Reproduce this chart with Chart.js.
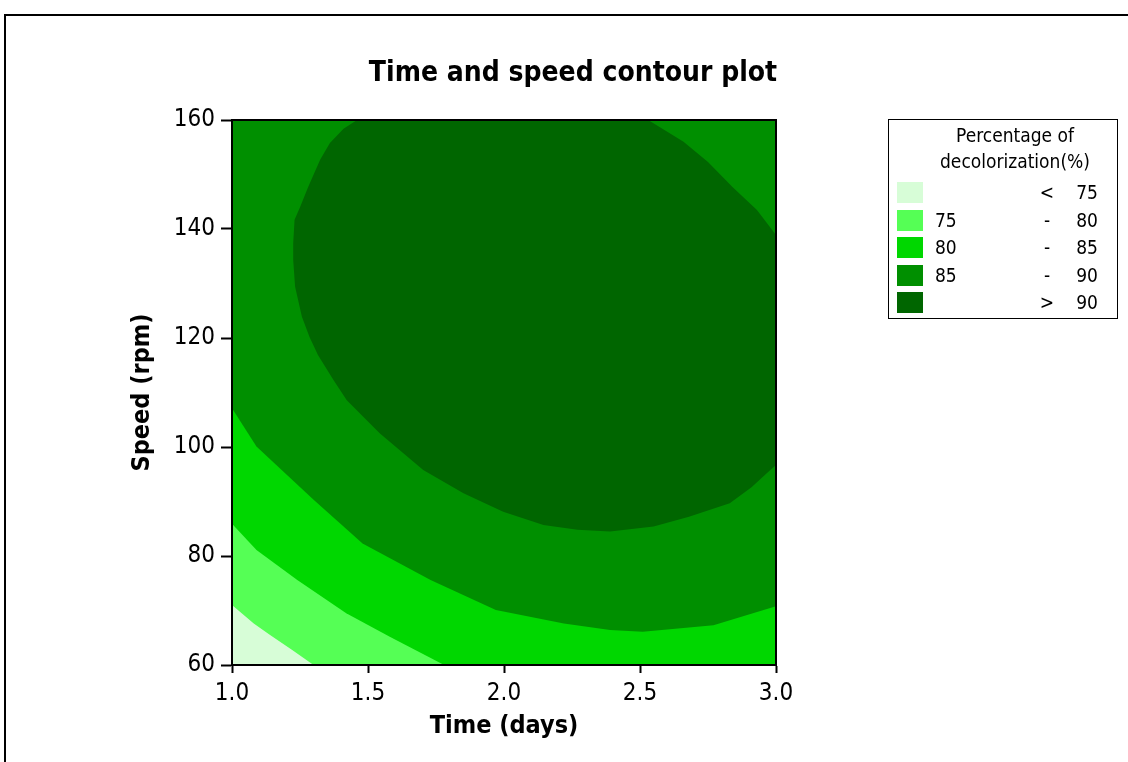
<!DOCTYPE html>
<html>
<head>
<meta charset="utf-8">
<script src="https://cdn.jsdelivr.net/npm/chart.js@4.4.1/dist/chart.umd.min.js"></script>
<style>
  html, body { margin: 0; padding: 0; background: #fff; overflow: hidden; }
  #wrap { position: relative; width: 1128px; height: 762px; font-family: 'DejaVu Sans Condensed', 'DejaVu Sans', sans-serif; color: #000; }
  #frame { position: absolute; left: 4px; top: 14px; width: 1200px; height: 800px; border: 2px solid #000; }
  #chart { position: absolute; left: 0; top: 0; }
  #title { position: absolute; left: 0; top: 56px; width: 1146px; text-align: center; font-weight: bold; font-size: 28px; line-height: 32px; }
  #legend { position: absolute; left: 888px; top: 119px; width: 230px; height: 200px; border: 1px solid #000; box-sizing: border-box; font-size: 19px; }
  #legend .head { position: absolute; left: 26px; width: 200px; text-align: center; line-height: 24px; }
  #legend .sw { position: absolute; left: 8px; width: 26px; height: 21px; }
  #legend .lo { position: absolute; left: 46px; line-height: 21px; }
  #legend .sg { position: absolute; left: 148px; width: 20px; text-align: center; line-height: 21px; }
  #legend .hi { position: absolute; right: 19px; line-height: 21px; text-align: right; }
</style>
</head>
<body>
<div id="wrap">
  <div id="frame"></div>
  <canvas id="chart" width="1128" height="762"></canvas>
  <div id="title">Time and speed contour plot</div>
  <div id="legend"></div>
</div>
<script>
// axis ranges and ticks
const timeRange = [1.0, 3.0];
const speedRange = [60, 160];
const timeTicks = [1.0, 1.5, 2.0, 2.5, 3.0];
const speedTicks = [60, 80, 100, 120, 140, 160];

// legend
const legendTitle = ['Percentage of', 'decolorization(%)'];
const levelColors = ['#d7fdd7', '#55ff55', '#00d700', '#008f00', '#006600'];
const legendLow = ['', '75', '80', '85', ''];
const legendSign = ['<', '-', '-', '-', '>'];
const legendHigh = ['75', '80', '85', '90', '90'];

// contour lines, [time, speed]
const contour75 = [[1.0, 71.0], [1.08, 67.6], [1.14, 65.5], [1.22, 62.8], [1.30, 60]];
const contour80 = [[1.0, 85.9], [1.09, 81.1], [1.24, 75.6], [1.42, 69.5], [1.58, 65.2], [1.78, 60]];
const contour85 = [[1.0, 107.1], [1.09, 100.1], [1.15, 97.3], [1.30, 90.3], [1.48, 82.3], [1.73, 75.6],
  [1.97, 70.1], [2.22, 67.6], [2.39, 66.4], [2.51, 66.1], [2.77, 67.3], [3.0, 70.8]];
const contour90 = [[1.46, 160], [1.41, 158.4], [1.36, 155.8], [1.324, 152.7], [1.28, 147.7], [1.25, 144.0],
  [1.23, 141.7], [1.225, 137.4], [1.225, 134.3], [1.232, 129.4], [1.257, 123.9], [1.285, 120.2],
  [1.316, 116.9], [1.373, 112.3], [1.422, 108.6], [1.544, 102.5], [1.703, 95.8],
  [1.851, 91.5], [1.997, 88.1], [2.145, 85.7], [2.27, 84.8], [2.39, 84.5], [2.55, 85.4], [2.68, 87.2],
  [2.83, 89.7], [2.91, 92.6], [2.966, 95.2], [3.0, 96.7]];
const contour90top = [[3.0, 138.9], [2.93, 143.5], [2.84, 147.7], [2.75, 152.3], [2.66, 156], [2.53, 160]];

const fontFamily = "'DejaVu Sans Condensed', 'DejaVu Sans', sans-serif";

const [tMin, tMax] = timeRange;
const [sMin, sMax] = speedRange;
const toPts = arr => arr.map(p => ({ x: p[0], y: p[1] }));
const upperRight = [[tMax, sMin], [tMax, sMax], [tMin, sMax]];

// regions from the highest level down (first one is drawn on top)
const regions = [
  contour90.concat(contour90top),
  contour85.concat([[tMax, sMax], [tMin, sMax]]),
  contour80.concat(upperRight),
  contour75.concat(upperRight),
  [[tMin, sMin], [tMax, sMin], [tMax, sMax], [tMin, sMax]]
];

const datasets = regions.map((r, i) => ({
  data: toPts(r),
  showLine: true,
  fill: 'shape',
  backgroundColor: levelColors[levelColors.length - 1 - i],
  borderColor: 'rgba(0,0,0,0)',
  borderWidth: 0,
  pointRadius: 0,
  tension: 0,
  order: i
}));

// box around the plot area
const plotFrame = {
  id: 'plotFrame',
  afterDatasetsDraw(chart) {
    const { ctx, chartArea: a } = chart;
    ctx.save();
    ctx.strokeStyle = '#000';
    ctx.lineWidth = 2;
    ctx.strokeRect(a.left, a.top, a.right - a.left, a.bottom - a.top);
    ctx.restore();
  }
};

new Chart(document.getElementById('chart'), {
  type: 'scatter',
  data: { datasets: datasets },
  plugins: [plotFrame],
  options: {
    responsive: false,
    animation: false,
    events: [],
    layout: { padding: { left: 0, right: 352, top: 120, bottom: 0 } },
    plugins: {
      legend: { display: false },
      tooltip: { enabled: false },
      title: { display: false }
    },
    scales: {
      x: {
        type: 'linear',
        min: tMin,
        max: tMax,
        afterBuildTicks: s => { s.ticks = timeTicks.map(v => ({ value: v })); },
        afterFit: s => { s.height = 97; },
        ticks: {
          callback: v => v.toFixed(1),
          color: '#000',
          font: { family: fontFamily, size: 24 },
          padding: 6,
          maxRotation: 0,
          autoSkip: false
        },
        grid: { drawOnChartArea: false, color: '#000', tickLength: 8, tickWidth: 2 },
        border: { color: '#000', width: 2 },
        title: {
          display: true,
          text: 'Time (days)',
          color: '#000',
          font: { family: fontFamily, size: 25, weight: 'bold' },
          padding: { top: 0, bottom: 21 }
        }
      },
      y: {
        type: 'linear',
        min: sMin,
        max: sMax,
        afterBuildTicks: s => { s.ticks = speedTicks.map(v => ({ value: v })); },
        afterFit: s => { s.width = 232; },
        ticks: {
          color: '#000',
          font: { family: fontFamily, size: 24 },
          padding: 6,
          autoSkip: false
        },
        grid: { drawOnChartArea: false, color: '#000', tickLength: 11, tickWidth: 2 },
        border: { color: '#000', width: 2 },
        title: {
          display: true,
          text: 'Speed (rpm)',
          color: '#000',
          font: { family: fontFamily, size: 25, weight: 'bold' },
          padding: { top: 127, bottom: 0 }
        }
      }
    }
  }
});

// legend box
const legend = document.getElementById('legend');
legendTitle.forEach((t, i) => {
  const d = document.createElement('div');
  d.className = 'head';
  d.style.top = (3 + i * 26) + 'px';
  d.textContent = t;
  legend.appendChild(d);
});
levelColors.forEach((c, i) => {
  const top = 62 + i * 27.5;
  const sw = document.createElement('div');
  sw.className = 'sw';
  sw.style.top = top + 'px';
  sw.style.background = c;
  legend.appendChild(sw);
  [['lo', legendLow[i]], ['sg', legendSign[i]], ['hi', legendHigh[i]]].forEach(([cls, txt]) => {
    const d = document.createElement('div');
    d.className = cls;
    d.style.top = top + 'px';
    d.textContent = txt;
    legend.appendChild(d);
  });
});
</script>
</body>
</html>
